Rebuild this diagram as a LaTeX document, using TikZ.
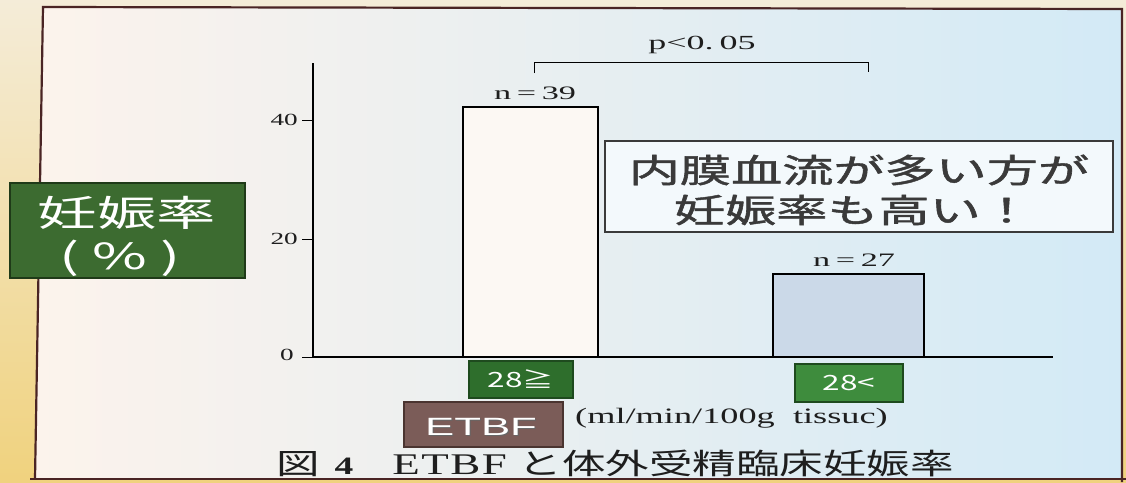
\documentclass[tikz,border=0pt]{standalone}
\usepackage{fontspec}
\usepackage{graphicx}
\newfontfamily\jp{Noto Sans CJK JP}
\newfontfamily\jpb[FakeBold=1.2]{Noto Sans CJK JP}
\newfontfamily\arialf{Liberation Sans}
\newfontfamily\serif{Liberation Serif}
\newcommand\Sx[2]{\scalebox{#1}[1]{#2}}
\newcommand\fs[1]{\fontsize{#1}{#1}\selectfont}
\definecolor{framecol}{HTML}{4A2424}
\definecolor{stripTop}{HTML}{F4ECD8}
\definecolor{stripBot}{HTML}{F0D27E}
\definecolor{bgL}{HTML}{FCF3EC}
\definecolor{bgM}{HTML}{EAF2F5}
\definecolor{bgR}{HTML}{D3EAF6}
\definecolor{barone}{HTML}{FCF8F3}
\definecolor{bartwo}{HTML}{CBD9E8}
\definecolor{ylabfill}{HTML}{3C6B30}
\definecolor{ylabborder}{HTML}{1F3A18}
\definecolor{gfillA}{HTML}{2E6E2C}
\definecolor{gfillB}{HTML}{3E8C3D}
\definecolor{gborder}{HTML}{1E4A1E}
\definecolor{etbffill}{HTML}{7B5C58}
\definecolor{etbfborder}{HTML}{4A3430}
\definecolor{calloutfill}{HTML}{F3F9FC}
\definecolor{callouttext}{HTML}{3A3A3A}
\definecolor{inktext}{HTML}{1E1E1E}
\begin{document}
\begin{tikzpicture}[x=1pt,y=-1pt,
  frameline/.style={draw=framecol,line width=2.2pt},
  axisline/.style={draw=black,line width=1.3pt},
  tickline/.style={draw=black,line width=1pt},
  barbox/.style={draw=black,line width=1.4pt},
  txt/.style={inner sep=0pt,text=inktext},
  labelbox/.style={line width=1.5pt,inner sep=0pt},
]
\useasboundingbox (0,0) rectangle (1126,482);
% backgrounds
\fill[top color=stripTop,bottom color=stripBot] (0,0) rectangle (1126,482);
\shade[left color=bgL,middle color=bgM,right color=bgR] (43,7) -- (1122,9) -- (1122,479) -- (35,479) -- cycle;
% frame
\draw[frameline] (35,479) -- (43,7) -- (1122,9) -- (1122,482);
\draw[frameline] (30,479) -- (1126,479);

% axes
\coordinate (ytop) at (313,63);
\coordinate (origin) at (313,357);
\coordinate (xend) at (1053,357);
\coordinate (t40) at (313,120);
\coordinate (t20) at (313,239);
\draw[axisline] (ytop) -- (origin) -- (xend);
\draw[tickline] (t40) -- ++(-11,0);
\draw[tickline] (t20) -- ++(-11,0);
\draw[tickline] (origin) -- ++(-11,0);
\node[txt,anchor=east] (l40) at (298,120) {\Sx{1.6}{\serif\fs{17}40}};
\node[txt,anchor=east] (l20) at (298,239) {\Sx{1.6}{\serif\fs{17}20}};
\node[txt,anchor=east] (l0) at (294,355) {\Sx{1.6}{\serif\fs{17}0}};

% bars
\draw[barbox,fill=barone] (463,357) rectangle (598,107);
\draw[barbox,fill=bartwo] (773,357) rectangle (924,274);
\node[txt] (n39) at (535,93) {\Sx{1.8}{\serif\fs{19}n\,=\,39}};
\node[txt] (n27) at (854,260) {\Sx{1.8}{\serif\fs{19}n\,=\,27}};

% significance bracket
\coordinate (bl) at (534,73);
\coordinate (br) at (868,72);
\draw[tickline] (bl) -- (534,62) -- (868,62) -- (br);
\node[txt] (pval) at (702,45) {\Sx{1.8}{\serif\fs{20}p<0.\,05}};

% callout
\node[draw=callouttext,line width=1.6pt,fill=calloutfill,minimum width=508pt,minimum height=91pt,inner sep=0pt] (callout) at (859,186.5) {};
\node[txt,text=callouttext] (c1) at (859,170) {\Sx{1.55}{\jpb\fs{33}内膜血流が多い方が}};
\node[txt,text=callouttext] (c2) at (853,210) {\Sx{1.55}{\jpb\fs{33}妊娠率も高い！}};

% y label box
\node[labelbox,draw=ylabborder,fill=ylabfill,minimum width=235pt,minimum height=95pt] (ybox) at (127.5,230.5) {};
\node[txt,text=white] (y1) at (127,213) {\Sx{1.65}{\jp\fs{36}妊娠率}};
\node[txt,text=white] (y2) at (120,258) {\Sx{1.65}{\jp\fs{36}( \% )}};

% category boxes
\node[labelbox,draw=gborder,fill=gfillA,minimum width=104pt,minimum height=37pt] (c28a) at (521,379.5) {\Sx{1.5}{\jp\fs{21}\color{white}28≧}};
\node[labelbox,draw=gborder,fill=gfillB,minimum width=108pt,minimum height=38pt] (c28b) at (849,383) {\Sx{1.5}{\jp\fs{21}\color{white}28<}};

% ETBF box
\node[labelbox,draw=etbfborder,fill=etbffill,minimum width=159pt,minimum height=45pt] (etbf) at (483.5,424.5) {};
\node[txt,text=black!60] (etbfs) at (482,428) {\Sx{1.75}{\arialf\fs{25}ETBF}};
\node[txt,text=white] (etbft) at (481,427) {\Sx{1.75}{\arialf\fs{25}ETBF}};
\node[txt,anchor=west] (unit) at (575,418) {\Sx{1.65}{\serif\fs{22}(ml/min/100g\ \ tissuc)}};

% caption
\node[txt,anchor=west] (cap) at (276,463) {\Sx{1.5}{{\jp\fs{29}図}\hspace{10pt}{\serif\bfseries\fs{25}4}\hspace{26pt}{\serif\fs{30}E\hspace{1pt}T\hspace{1pt}B\hspace{1pt}F}\hspace{8pt}{\jp\fs{29}と体外受精臨床妊娠率}}};
\end{tikzpicture}
\end{document}
